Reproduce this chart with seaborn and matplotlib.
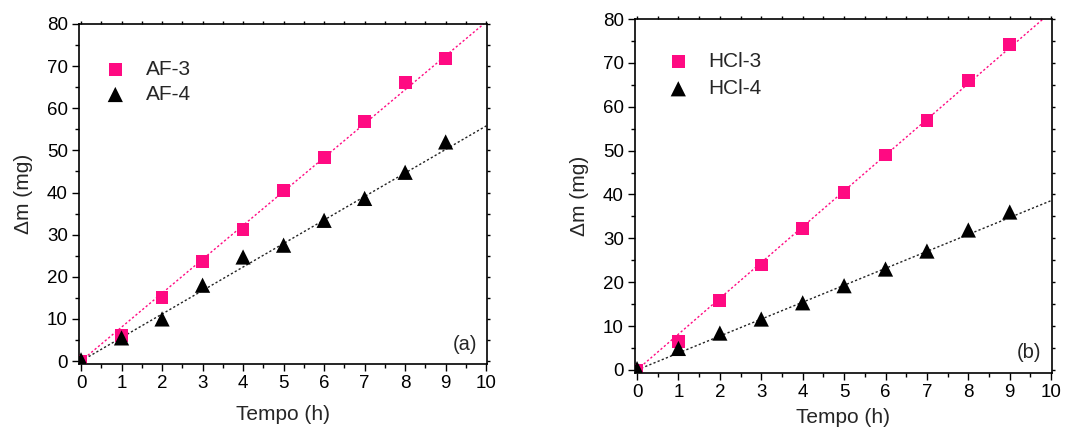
import numpy as np
import pandas as pd
import matplotlib
matplotlib.use("Agg")
import matplotlib.pyplot as plt
import seaborn as sns
from matplotlib.ticker import MultipleLocator

# ---- data ----
tempo = [0, 1, 2, 3, 4, 5, 6, 7, 8, 9]
af3 = [0.0, 6.0, 15.0, 23.6, 31.2, 40.5, 48.3, 56.8, 66.2, 71.9]
af4 = [0.3, 5.5, 10.0, 18.0, 24.7, 27.5, 33.4, 38.6, 44.8, 52.0]
hcl3 = [0.0, 6.5, 15.8, 23.9, 32.3, 40.5, 49.0, 56.9, 65.9, 74.2]
hcl4 = [0.3, 4.9, 8.4, 11.6, 15.3, 19.2, 23.0, 27.1, 31.9, 36.0]
# slopes of the dotted linear fits (mg/h)
fit_x = [0, 10]
slope_af3, slope_af4 = 8.05, 5.58
slope_hcl3, slope_hcl4 = 8.16, 3.86
x_ticks = [0, 1, 2, 3, 4, 5, 6, 7, 8, 9, 10]
y_ticks = [0, 10, 20, 30, 40, 50, 60, 70, 80]
panel_labels = ["(a)", "(b)"]

PINK = "#ff0a82"
BLACK = "#000000"

sns.set_theme(style="ticks")
plt.rcParams["font.family"] = ["Liberation Sans", "DejaVu Sans"]

fig = plt.figure(figsize=(10.88, 4.28), dpi=100)
ax_a = fig.add_axes([0.0726, 0.1495, 0.3750, 0.7945])
ax_b = fig.add_axes([0.5836, 0.1285, 0.3833, 0.8271])

panels = [
    (ax_a, ("AF-3", af3, slope_af3), ("AF-4", af4, slope_af4), panel_labels[0],
     (-0.008, 0.95), 9, 0.3),
    (ax_b, ("HCl-3", hcl3, slope_hcl3), ("HCl-4", hcl4, slope_hcl4), panel_labels[1],
     (0.009, 0.96), 5, 0.4),
]

for ax, (n3, v3, k3), (n4, v4, k4), plab, lpos, xlpad, lsp in panels:
    for k, col in ((k3, PINK), (k4, "#222222")):
        xf = np.array(fit_x, float)
        fdf = pd.DataFrame({"Tempo": xf, "dm": k * xf})
        sns.lineplot(data=fdf, x="Tempo", y="dm", color=col, ax=ax,
                     linewidth=1.0, linestyle=(0, (1.6, 1.6)))
    d3 = pd.DataFrame({"Tempo": tempo, "dm": v3})
    d4 = pd.DataFrame({"Tempo": tempo, "dm": v4})
    sns.scatterplot(data=d3, x="Tempo", y="dm", marker="s", color=PINK,
                    s=85, ax=ax, edgecolor="none", zorder=3, label=n3)
    sns.scatterplot(data=d4, x="Tempo", y="dm", marker="^", color=BLACK,
                    s=120, ax=ax, edgecolor="none", zorder=3, label=n4)
    ax.set_xlim(-0.05, 10.02)
    ax.set_ylim(-0.7, 80)
    ax.set_xticks(x_ticks)
    ax.set_yticks(y_ticks)
    ax.xaxis.set_minor_locator(MultipleLocator(0.5))
    ax.yaxis.set_minor_locator(MultipleLocator(5))
    ax.tick_params(axis="both", which="major", direction="out", length=5,
                   width=1, labelsize=13.5, colors="black", pad=3)
    ax.tick_params(axis="both", which="minor", direction="out", length=3,
                   width=1, colors="black")
    ax.tick_params(top=True, right=True, which="both")
    for t in ax.xaxis.get_ticklines(minor=False)[1::2] + ax.xaxis.get_ticklines(minor=True)[1::2]:
        t.set_markersize(2)
        t.set_color("#999999")
    for t in ax.yaxis.get_ticklines(minor=False)[1::2] + ax.yaxis.get_ticklines(minor=True)[1::2]:
        t.set_markersize(2)
        t.set_color("#999999")
    for sp in ax.spines.values():
        sp.set_linewidth(1.2)
        sp.set_color("black")
    ax.set_xlabel("Tempo (h)", fontsize=15, labelpad=xlpad)
    ax.set_ylabel("Δm (mg)", fontsize=15, labelpad=10)
    ax.text(0.975, 0.03, plab, transform=ax.transAxes, ha="right", va="bottom",
            fontsize=14.5)
    ax.legend(loc="upper left", bbox_to_anchor=lpos, frameon=False,
              fontsize=15, handletextpad=0.45, labelspacing=lsp,
              markerscale=1.0)

fig.savefig("out.png", dpi=100)
